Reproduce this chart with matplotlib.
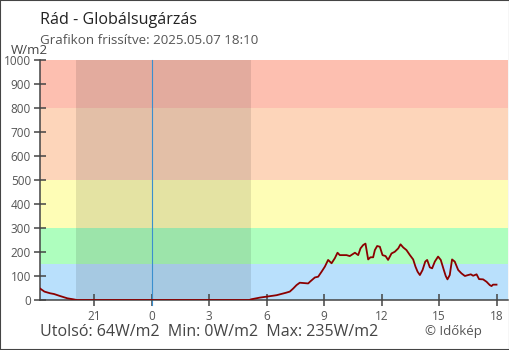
import matplotlib.pyplot as plt
from matplotlib.patches import Rectangle

plt.rcParams['font.family'] = ['Open Sans', 'DejaVu Sans']

# hours relative to midnight (negative = previous evening)
hours = [-5.83, -5.6, -5.3, -5.1, -4.8, -4.4, -4.1, -3.9, 5.1, 5.2, 5.65, 6.0, 6.52, 7.0,
         7.21, 7.39, 7.56, 7.73, 8.17, 8.26, 8.52, 8.69, 8.87, 9.04, 9.21, 9.39, 9.56, 9.70,
         9.82, 10.17, 10.34, 10.61, 10.78, 10.90, 11.04, 11.16, 11.30, 11.42, 11.56, 11.65,
         11.77, 11.91, 12.05, 12.21, 12.34, 12.52, 12.69, 12.87, 12.99, 13.13, 13.30, 13.48,
         13.65, 13.77, 13.88, 14.00, 14.14, 14.28, 14.38, 14.52, 14.64, 14.78, 14.95, 15.09,
         15.25, 15.35, 15.44, 15.56, 15.68, 15.82, 16.00, 16.17, 16.35, 16.52, 16.66, 16.78,
         16.96, 17.09, 17.30, 17.48, 17.65, 17.74, 17.82, 18.00]
radiation = [48, 35, 28, 25, 17, 7, 3, 0, 0, 3, 10, 14, 20, 30,
             35, 48, 62, 72, 69, 76, 94, 97, 118, 139, 167, 153, 174, 197,
             187, 187, 183, 197, 187, 215, 229, 235, 169, 178, 178, 208,
             225, 222, 187, 183, 167, 194, 201, 215, 232, 219, 208, 187,
             169, 139, 118, 104, 125, 160, 167, 136, 132, 160, 181, 167,
             125, 100, 86, 104, 169, 160, 125, 111, 100, 104, 107, 101,
             107, 87, 86, 76, 62, 58, 64, 64]

band_edges = [0, 150, 300, 500, 800, 1000]
band_colors = ['#b9e0fc', '#aefebe', '#fefdb6', '#fdd5ba', '#fdbfb0']
sunset, sunrise = -3.95, 5.18

tick_pos = [-3, 0, 3, 6, 9, 12, 15, 18]
tick_labels = ['21', '0', '3', '6', '9', '12', '15', '18']

fig = plt.figure(figsize=(5.1, 3.5), dpi=100)
ax = fig.add_axes([40 / 510, 50 / 350, 468 / 510, 240 / 350])

for lo, hi, c in zip(band_edges[:-1], band_edges[1:], band_colors):
    ax.axhspan(lo, hi, color=c, lw=0, zorder=0)
ax.axvspan(sunset, sunrise, color='black', alpha=0.1, lw=0, zorder=1)
ax.axvline(0, ymin=-0.02, ymax=1, color='#3a8fcf', lw=0.8, zorder=2, clip_on=False)

ax.plot(hours, radiation, color='#8b0000', lw=1.3, zorder=3)

ax.set_xlim(-5.83, 18.6)
ax.set_ylim(0, 1000)
ax.set_yticks(range(0, 1001, 100))
ax.set_xticks(tick_pos)
ax.set_xticklabels(tick_labels)
ax.tick_params(direction='inout', length=9, width=1.1, color='#444444',
               labelcolor='#555555', labelsize=8.5)
ax.tick_params(axis='y', pad=2)
ax.tick_params(axis='x', pad=3)
for s in ['top', 'right']:
    ax.spines[s].set_visible(False)
for s in ['left', 'bottom']:
    ax.spines[s].set_color('#444444')
    ax.spines[s].set_linewidth(1.1)

fig.text(40 / 510, 1 - 20 / 350, 'Rád - Globálsugárzás', fontsize=11.6, color='#222222',
         va='center', ha='left')
fig.text(40 / 510, 1 - 41 / 350, 'Grafikon frissítve: 2025.05.07 18:10', fontsize=9.6,
         color='#555555', va='center', ha='left')
fig.text(11 / 510, 1 - 51 / 350, 'W/m2', fontsize=9.5, color='#444444', va='center', ha='left')
fig.text(40 / 510, 1 - 332 / 350, 'Utolsó: 64W/m2  Min: 0W/m2  Max: 235W/m2', fontsize=11.5,
         color='#444444', va='center', ha='left')
fig.text(482 / 510, 1 - 331 / 350, '© Időkép', fontsize=9.5, color='#555555',
         va='center', ha='right')

fig.patches.append(Rectangle((0, 0), 1, 1, transform=fig.transFigure, fill=False,
                             edgecolor='#444444', lw=1.5))

fig.savefig('out.png', dpi=100)
